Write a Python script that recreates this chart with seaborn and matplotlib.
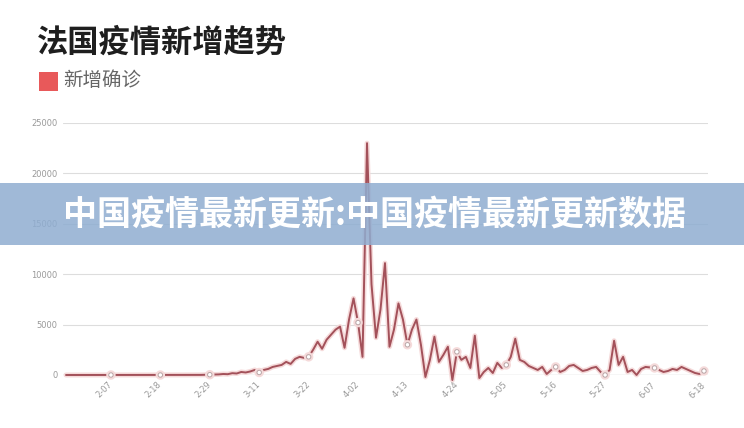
import matplotlib
matplotlib.use("Agg")
import matplotlib.pyplot as plt
import matplotlib.patheffects as pe
from matplotlib.patches import Rectangle
import seaborn as sns
import pandas as pd
import numpy as np
import datetime as dt

# ---- data ----
start_date = dt.date(2020, 1, 28)
new_cases = [
    0, 0, 0, 0, 0, 0, 0, 0, 0, 0,
    0, 0, 0, 0, 0, 0, 0, 0, 0, 0,
    0, 0, 0, 0, 0, 0, 0, 0, 0, 0,
    10, 20, 30, 50, 60, 100, 80, 180, 150, 300,
    250, 350, 500, 250, 500, 600, 800, 900, 1000, 1300,
    1100, 1600, 1800, 1700, 1800, 2500, 3300, 2600, 3500, 4000,
    4500, 4800, 2700, 5500, 7600, 5200, 1800, 23000, 9000, 3700,
    6500, 11100, 2800, 4500, 7100, 5500, 3000, 4500, 5500, 3000,
    -200, 1500, 3800, 1300, 2000, 2800, -500, 2300, 1500, 1800,
    700, 3900, -300, 300, 700, 200, 1200, 700, 1000, 1800,
    3600, 1500, 1300, 900, 700, 500, 800, 100, 500, 800,
    300, 500, 900, 1000, 700, 400, 500, 700, 800, 300,
    0, 500, 3400, 1000, 1800, 300, 500, 0, 600, 800,
    750, 700, 500, 300, 400, 600, 500, 800, 600, 400,
    200, 100, 400,
]
dates = [start_date + dt.timedelta(days=i) for i in range(len(new_cases))]
date_labels = [f"{d.month}-{d.day:02d}" for d in dates]
tick_every = 11
tick_first = 10
y_ticks = [0, 5000, 10000, 15000, 20000, 25000]

title = "法国疫情新增趋势"
legend_label = "新增确诊"
banner_text = "中国疫情最新更新:中国疫情最新更新数据"

df = pd.DataFrame({"idx": range(len(new_cases)), "value": new_cases, "label": date_labels})

# ---- style ----
sns.set_style("white")
plt.rcParams["font.family"] = ["Noto Sans CJK SC", "DejaVu Sans"]

W, H = 744, 428
fig = plt.figure(figsize=(W / 100, H / 100), dpi=100)
ax = fig.add_axes([63 / W, 1 - 375 / H, (708 - 63) / W, (375 - 123) / H])

line_color = "#a3515a"
tick_idx = list(range(tick_first, len(new_cases), tick_every))

sns.lineplot(data=df, x="idx", y="value", ax=ax, color=line_color, linewidth=1.4,
             marker="o", markevery=tick_idx, markersize=3.2,
             markerfacecolor="white", markeredgecolor="#b9a5a6", markeredgewidth=0.7)
for ln in ax.lines:
    ln.set_clip_on(False)
    ln.set_zorder(3)
    ln.set_path_effects([pe.Stroke(linewidth=3.6, foreground="#f5dada"), pe.Normal()])

ax.set_xlim(-0.67, len(new_cases) - 1 + 0.9)
ax.set_ylim(0, 25000)
ax.set_yticks(y_ticks)
ax.set_yticklabels([str(v) for v in y_ticks], fontsize=6, color="#999999", family="DejaVu Sans")
ax.set_xticks(tick_idx)
ax.set_xticklabels([date_labels[i] for i in tick_idx], fontsize=6, color="#999999",
                   rotation=45, ha="right", va="center", rotation_mode="anchor",
                   family="DejaVu Sans")
ax.tick_params(axis="y", length=0, pad=4)
ax.tick_params(axis="x", length=0, pad=6)
ax.set_xlabel("")
ax.set_ylabel("")
for s in ax.spines.values():
    s.set_visible(False)
ax.grid(axis="y", color="#dddddd", linewidth=0.8)
ax.grid(axis="x", visible=False)
ax.axhline(0, color="#c8c8c8", linewidth=0.9, zorder=1)

# title and legend
fig.text(37 / W, 1 - 43 / H, title, fontsize=22.5, fontweight="heavy", color="#1e1e1e",
         ha="left", va="center")
fig.patches.append(Rectangle((39 / W, 1 - 91 / H), 19 / W, 19 / H, transform=fig.transFigure,
                             facecolor="#e8595a", edgecolor="none"))
fig.text(63 / W, 1 - 81 / H, legend_label, fontsize=14, color="#666666", ha="left", va="center")

# banner overlay
fig.patches.append(Rectangle((0, 1 - 245 / H), 1, 62 / H, transform=fig.transFigure,
                             facecolor="#8fadd1", edgecolor="none", alpha=0.85, zorder=10))
fig.text(375 / W, 1 - 214 / H, banner_text, fontsize=24.5, fontweight="heavy", color="white",
         ha="center", va="center", zorder=11)

fig.savefig("out.png", dpi=100)
